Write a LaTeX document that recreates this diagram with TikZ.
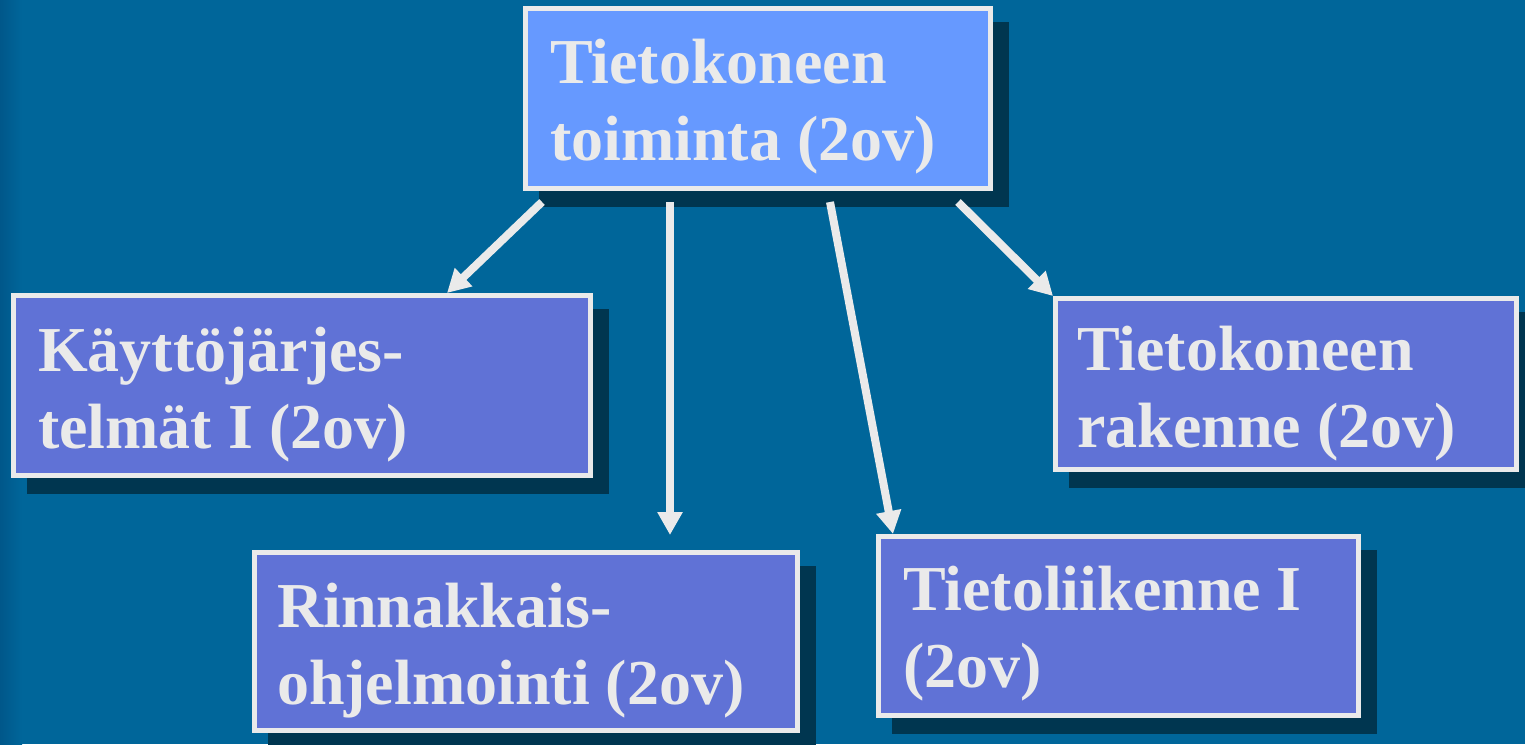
\documentclass[tikz,border=0pt]{standalone}
\usepackage{fontspec}
\setmainfont{Liberation Serif}
\usetikzlibrary{arrows.meta,calc}
\definecolor{bg}{HTML}{00669A}
\definecolor{bgdark}{HTML}{00578A}
\definecolor{shadowc}{HTML}{003650}
\definecolor{topfill}{HTML}{6699FF}
\definecolor{boxfill}{HTML}{6072D6}
\definecolor{edgec}{HTML}{EAEAEA}
\pgfdeclarelayer{back}
\pgfsetlayers{back,main}
\tikzset{
  box/.style={draw=edgec, line width=5pt, fill=boxfill, rectangle, inner sep=0pt, outer sep=0pt, anchor=north west},
  txt/.style={anchor=base west, inner sep=0pt, outer sep=0pt, text=edgec, font=\fontsize{64}{77}\selectfont\bfseries},
  arr/.style={draw=edgec, line width=8pt, -{Triangle[width=24pt,length=23pt]}},
  shadowbox/.style={fill=shadowc}
}
\newcommand{\twolines}[1]{\parbox[t]{700pt}{\raggedright #1}}
\begin{document}
\begin{tikzpicture}[x=1pt,y=-1pt]
\useasboundingbox (0,0) rectangle (1525,744);

% boxes
\path
  (525.5,8.5)   node[box, fill=topfill, minimum width=465pt, minimum height=180pt] (top) {}
  (13.5,295.5)  node[box, minimum width=577pt, minimum height=180pt] (kay) {}
  (254.5,552.5) node[box, minimum width=543pt, minimum height=178pt] (rin) {}
  (878,536.5)   node[box, minimum width=480.5pt, minimum height=179pt] (tli) {}
  (1055.5,298.5) node[box, minimum width=461pt, minimum height=171pt] (rak) {};

% background and shadows
\begin{pgfonlayer}{back}
\fill[bg] (0,0) rectangle (1525,744);
\shade[left color=bgdark, right color=bg] (0,0) rectangle (22,744);
\foreach \n in {top,kay,rin,tli,rak}{
  \fill[shadowbox] ($(\n.north west)+(13.5,13.5)$) rectangle ($(\n.south east)+(18.5,18.5)$);
}
\end{pgfonlayer}

% texts
\node[txt] (ttop) at (550,83) {\twolines{Tietokoneen\\toiminta (2ov)}};
\node[txt] (tkay) at (38,371) {\twolines{Käyttöjärjes-\\telmät I (2ov)}};
\node[txt] (trin) at (277,627) {\twolines{Rinnakkais-\\ohjelmointi (2ov)}};
\node[txt] (ttli) at (903,610) {\twolines{Tietoliikenne I\\(2ov)}};
\node[txt] (trak) at (1077,370) {\twolines{Tietokoneen\\rakenne (2ov)}};

% connector endpoints
\coordinate (s1) at (542,202);
\coordinate (s2) at (670,202);
\coordinate (s3) at (830,202);
\coordinate (s4) at (958,202);
\coordinate (e1) at (447,293);
\coordinate (e2) at (670,535);
\coordinate (e3) at (893,534);
\coordinate (e4) at (1053,296);

\draw[arr] (s1) -- (e1);
\draw[arr] (s2) -- (e2);
\draw[arr] (s3) -- (e3);
\draw[arr] (s4) -- (e4);
\end{tikzpicture}
\end{document}
